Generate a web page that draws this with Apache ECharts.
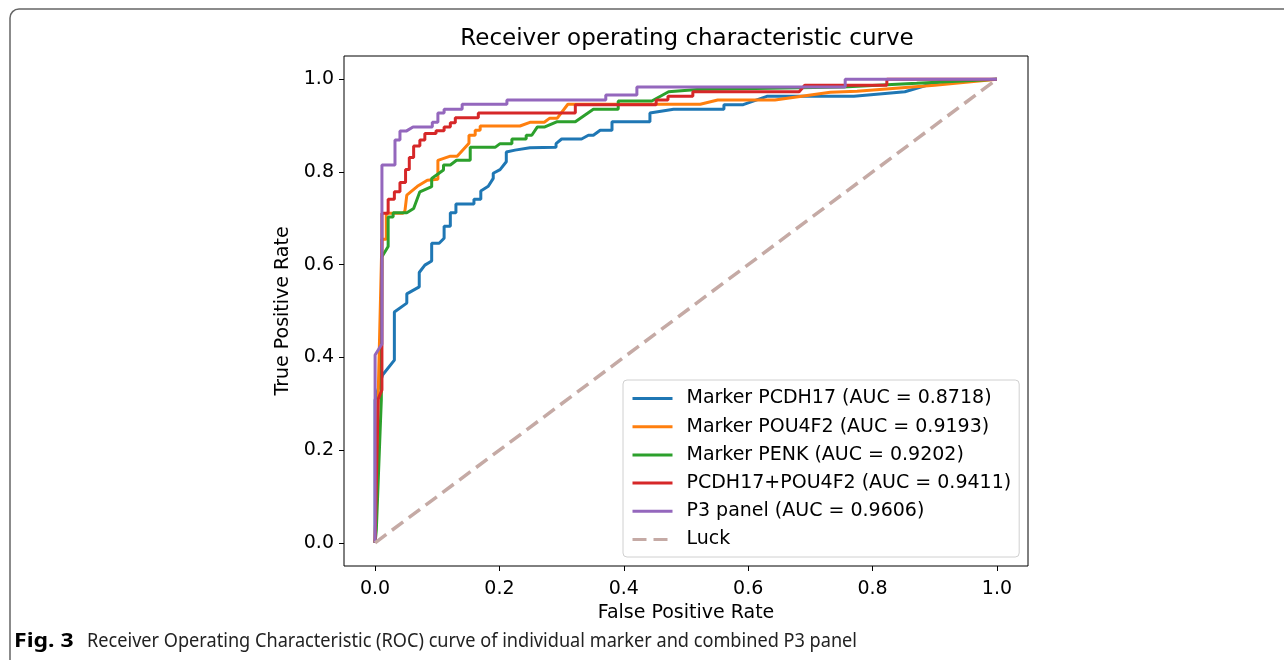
<!DOCTYPE html>
<html>
<head>
<meta charset="utf-8">
<script src="https://cdn.jsdelivr.net/npm/echarts@6/dist/echarts.min.js"></script>
<style>
  html, body { margin: 0; padding: 0; background: #fff; }
  #chart { width: 1284px; height: 660px; }
</style>
</head>
<body>
<div id="chart"></div>
<script>
// ROC points, as [false positive rate, true positive rate]
const rocPCDH17 = [
  [0, 0], [0, 0.308], [0.003, 0.323], [0.012, 0.362], [0.031, 0.394], [0.031, 0.498],
  [0.051, 0.517], [0.051, 0.537], [0.071, 0.552], [0.071, 0.583], [0.080, 0.599],
  [0.091, 0.608], [0.091, 0.646], [0.103, 0.646], [0.111, 0.657], [0.111, 0.683],
  [0.121, 0.683], [0.121, 0.712], [0.130, 0.712], [0.130, 0.731], [0.159, 0.731],
  [0.159, 0.741], [0.170, 0.741], [0.170, 0.759], [0.182, 0.769], [0.190, 0.786],
  [0.190, 0.797], [0.201, 0.805], [0.211, 0.822], [0.211, 0.843], [0.225, 0.847],
  [0.249, 0.852], [0.291, 0.853], [0.291, 0.861], [0.300, 0.871], [0.332, 0.871],
  [0.343, 0.879], [0.351, 0.879], [0.362, 0.890], [0.381, 0.890], [0.381, 0.908],
  [0.442, 0.908], [0.442, 0.927], [0.480, 0.935], [0.561, 0.935], [0.561, 0.945],
  [0.592, 0.945], [0.630, 0.963], [0.770, 0.963], [0.852, 0.973], [0.887, 0.987],
  [0.912, 0.996], [1, 1]
];
const rocPOU4F2 = [
  [0, 0], [0.005, 0.32], [0.011, 0.655], [0.018, 0.655], [0.018, 0.711], [0.045, 0.711],
  [0.048, 0.716], [0.051, 0.750], [0.068, 0.769], [0.084, 0.782], [0.101, 0.784],
  [0.101, 0.825], [0.121, 0.834], [0.132, 0.834], [0.151, 0.862], [0.151, 0.879],
  [0.161, 0.879], [0.161, 0.890], [0.169, 0.890], [0.169, 0.899], [0.233, 0.899],
  [0.249, 0.907], [0.272, 0.907], [0.281, 0.916], [0.293, 0.916], [0.310, 0.946],
  [0.523, 0.946], [0.551, 0.955], [0.643, 0.955], [0.732, 0.972], [0.775, 0.974],
  [0.900, 0.987], [1, 1]
];
const rocPENK = [
  [0, 0], [0.002, 0.028], [0.010, 0.308], [0.011, 0.617], [0.021, 0.639], [0.021, 0.703],
  [0.029, 0.703], [0.029, 0.712], [0.051, 0.712], [0.062, 0.721], [0.072, 0.757],
  [0.091, 0.768], [0.091, 0.786], [0.110, 0.804], [0.110, 0.815], [0.121, 0.815],
  [0.131, 0.825], [0.153, 0.825], [0.153, 0.853], [0.193, 0.853], [0.201, 0.861],
  [0.220, 0.861], [0.220, 0.871], [0.243, 0.871], [0.243, 0.879], [0.252, 0.879],
  [0.261, 0.897], [0.273, 0.897], [0.292, 0.908], [0.322, 0.908], [0.351, 0.935],
  [0.391, 0.935], [0.391, 0.953], [0.445, 0.953], [0.472, 0.973], [0.518, 0.978],
  [0.752, 0.983], [0.871, 0.991], [1, 1]
];
const rocCombo = [
  [0, 0], [0.005, 0.31], [0.011, 0.33], [0.011, 0.711], [0.021, 0.711], [0.021, 0.741],
  [0.031, 0.741], [0.031, 0.757], [0.040, 0.757], [0.040, 0.777], [0.049, 0.777],
  [0.049, 0.805], [0.055, 0.805], [0.055, 0.831], [0.062, 0.831], [0.062, 0.856],
  [0.072, 0.856], [0.072, 0.869], [0.080, 0.869], [0.080, 0.883], [0.098, 0.883],
  [0.098, 0.889], [0.111, 0.889], [0.111, 0.897], [0.121, 0.897], [0.121, 0.906],
  [0.129, 0.906], [0.129, 0.917], [0.166, 0.917], [0.166, 0.927], [0.322, 0.927],
  [0.322, 0.945], [0.452, 0.945], [0.452, 0.955], [0.471, 0.955], [0.471, 0.963],
  [0.511, 0.963], [0.511, 0.973], [0.682, 0.973], [0.691, 0.987], [0.823, 0.987],
  [0.823, 1.0], [1, 1]
];
const rocP3 = [
  [0, 0], [0, 0.405], [0.011, 0.429], [0.011, 0.815], [0.032, 0.815], [0.032, 0.869],
  [0.040, 0.869], [0.040, 0.888], [0.050, 0.888], [0.061, 0.897], [0.092, 0.897],
  [0.092, 0.907], [0.101, 0.907], [0.101, 0.927], [0.111, 0.927], [0.111, 0.935],
  [0.140, 0.935], [0.140, 0.946], [0.212, 0.946], [0.212, 0.955], [0.371, 0.955],
  [0.371, 0.966], [0.421, 0.966], [0.421, 0.983], [0.756, 0.983], [0.756, 1.0], [1, 1]
];
const rocLuck = [[0, 0], [1, 1]];

const curveNames = ['Marker PCDH17', 'Marker POU4F2', 'Marker PENK', 'PCDH17+POU4F2', 'P3 panel'];
const aucValues = ['0.8718', '0.9193', '0.9202', '0.9411', '0.9606'];
const curveData = [rocPCDH17, rocPOU4F2, rocPENK, rocCombo, rocP3];
const curveColors = ['#1f77b4', '#ff7f0e', '#2ca02c', '#d62728', '#9467bd'];
const tickValues = [0, 0.2, 0.4, 0.6, 0.8, 1.0];

const font = 'DejaVu Sans';
const chart = echarts.init(document.getElementById('chart'));

const series = curveData.map((d, i) => ({
  name: `${curveNames[i]} (AUC = ${aucValues[i]})`,
  type: 'line',
  data: d,
  symbol: 'none',
  lineStyle: { width: 3, color: curveColors[i] },
  itemStyle: { color: curveColors[i] },
}));
series.push({
  name: 'Luck',
  type: 'line',
  data: rocLuck,
  symbol: 'none',
  lineStyle: { width: 3.5, color: '#c5aaa5', type: [14, 7] },
  itemStyle: { color: '#c5aaa5' },
});

const axisCommon = {
  type: 'value',
  min: -0.05,
  max: 1.05,
  nameLocation: 'middle',
  nameTextStyle: { fontFamily: font, fontSize: 19, color: '#000' },
  axisLine: { show: false, onZero: false },
  splitLine: { show: false },
  axisTick: { show: true, customValues: tickValues, length: 5, lineStyle: { color: '#000', width: 1 } },
  axisLabel: {
    customValues: tickValues,
    formatter: v => v.toFixed(1),
    fontFamily: font, fontSize: 19, color: '#000',
  },
};

chart.setOption({
  animation: false,
  backgroundColor: '#fff',
  title: {
    text: 'Receiver operating characteristic curve',
    left: 682,
    top: 23,
    textAlign: 'center',
    textStyle: { fontFamily: font, fontSize: 23, fontWeight: 'normal', color: '#000' },
  },
  grid: {
    left: 344, right: 256, top: 56, bottom: 94,
    show: true, borderColor: '#000', borderWidth: 1, backgroundColor: 'transparent',
  },
  xAxis: Object.assign({}, axisCommon, {
    name: 'False Positive Rate', nameGap: 38,
    axisLabel: Object.assign({}, axisCommon.axisLabel, { margin: 14 }),
  }),
  yAxis: Object.assign({}, axisCommon, {
    name: 'True Positive Rate', nameGap: 51,
    axisLabel: Object.assign({}, axisCommon.axisLabel, { margin: 10 }),
  }),
  legend: {
    orient: 'vertical',
    left: 623,
    top: 380,
    itemWidth: 40,
    itemHeight: 4,
    itemGap: 9.2,
    padding: [9, 8, 8, 8],
    borderColor: '#d0d0d0',
    borderWidth: 1,
    borderRadius: 4,
    backgroundColor: 'rgba(255,255,255,0.8)',
    selectedMode: false,
    itemStyle: { opacity: 0 },
    lineStyle: { width: 3 },
    textStyle: { fontFamily: font, fontSize: 19, color: '#000', padding: [0, 0, 0, 9] },
    data: series.map(s => s.name),
  },
  graphic: [
    {
      type: 'rect',
      shape: { x: 10, y: 9, width: 1400, height: 800, r: 9 },
      style: { fill: 'none', stroke: '#666', lineWidth: 1.5 },
      silent: true,
    },
    {
      type: 'text',
      x: 14, y: 641,
      style: { text: 'Fig. 3', fontFamily: 'Noto Sans', fontWeight: 'bold', fontSize: 20, fill: '#000', verticalAlign: 'middle' },
      scaleX: 1.15,
    },
    {
      type: 'text',
      x: 87, y: 641,
      style: {
        text: 'Receiver Operating Characteristic (ROC) curve of individual marker and combined P3 panel',
        fontFamily: 'Noto Sans', fontSize: 20, fill: '#222', verticalAlign: 'middle',
      },
      scaleX: 0.907,
    },
  ],
  series: series,
});
</script>
</body>
</html>
